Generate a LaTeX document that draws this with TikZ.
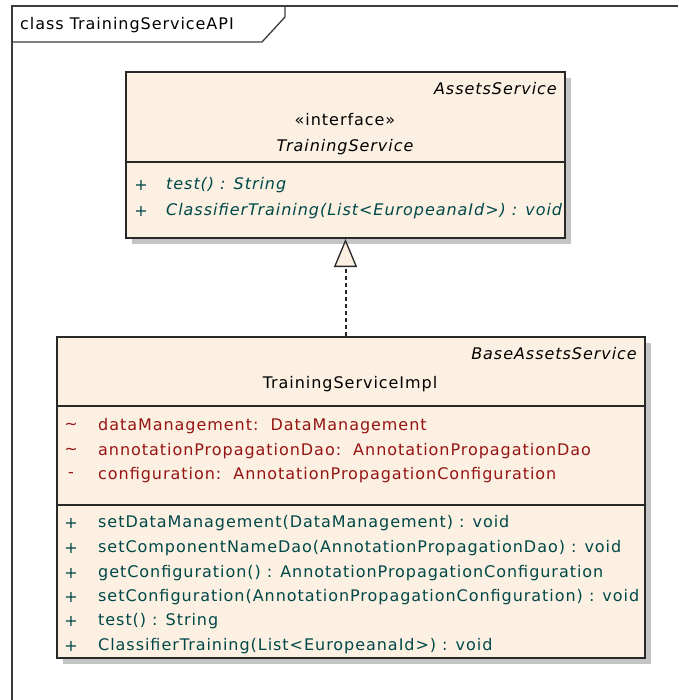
\documentclass[tikz,border=0pt]{standalone}
\usepackage{fontspec}
\newfontfamily\umlfont[LetterSpace=6]{DejaVu Sans}
\usetikzlibrary{arrows.meta,shadows,positioning}
\definecolor{boxfill}{RGB}{251,240,225}
\definecolor{boxline}{RGB}{40,40,40}
\definecolor{shadowgray}{RGB}{196,196,196}
\definecolor{attrred}{RGB}{150,20,20}
\definecolor{opteal}{RGB}{0,72,72}
\definecolor{framegray}{RGB}{60,60,60}
\tikzset{
  umlbox/.style={draw=boxline, line width=2pt, fill=boxfill,
    drop shadow={shadow xshift=6pt, shadow yshift=-6pt, fill=shadowgray, opacity=1}},
  umltext/.style={inner sep=0pt, font=\umlfont\fontsize{16}{19}\selectfont},
  umlitalic/.style={umltext, font=\umlfont\itshape\fontsize{16}{19}\selectfont},
  optext/.style={umltext, text=opteal},
  attrtext/.style={umltext, text=attrred},
  realize/.style={line width=2pt, boxline, dash pattern=on 4pt off 3pt,
    -{Triangle[width=23pt, length=28pt, fill=boxfill, line width=1.3pt]}}
}

\begin{document}
\begin{tikzpicture}[x=1pt, y=-1pt]
  \useasboundingbox (0,0) rectangle (678,700);

  % Frame
  \draw[framegray, line width=1.3pt] (12,700) -- (12,6) -- (678,6);
  \draw[framegray, line width=1.3pt] (12,42) -- (262,42) -- (285,17) -- (285,6);
  \node[umltext, anchor=west] (framelabel) at (20,25) {class TrainingServiceAPI};

  % Interface
  \node[umlbox, minimum width=439pt, minimum height=166pt] (iface) at (345.5,155) {};
  \draw[boxline, line width=1.6pt] (iface.west |- 0,162) -- (iface.east |- 0,162);
  \node[umlitalic, anchor=east] (ifaceparent) at (557,89) {AssetsService};
  \node[umltext] (ifacestereo) at (345,120) {«interface»};
  \node[umlitalic] (ifacename) at (345,147) {TrainingService};
  \foreach \y/\txt [count=\i] in {185/{test() : String},
      211/{ClassifierTraining(List<EuropeanaId>) : void}} {
    \node[optext] (ifacevis\i) at (141,\y) {+};
    \node[umlitalic, text=opteal, anchor=west] (ifaceop\i) at (166,\y) {\txt};
  }

  % Implementation
  \node[umlbox, minimum width=588pt, minimum height=321pt] (impl) at (351,497.5) {};
  \draw[boxline, line width=1.6pt] (impl.west |- 0,406) -- (impl.east |- 0,406);
  \draw[boxline, line width=1.6pt] (impl.west |- 0,505) -- (impl.east |- 0,505);
  \node[umlitalic, anchor=east] (implparent) at (637,354) {BaseAssetsService};
  \node[umltext] (implname) at (350,384) {TrainingServiceImpl};
  \foreach \y/\vis/\txt [count=\i] in {426/{\textasciitilde}/{dataManagement:~~DataManagement},
      451/{\textasciitilde}/{annotationPropagationDao:~~AnnotationPropagationDao},
      475/{-}/{configuration:~~AnnotationPropagationConfiguration}} {
    \node[attrtext] (implattrvis\i) at (71,\y) {\vis};
    \node[attrtext, anchor=west] (implattr\i) at (98,\y) {\txt};
  }
  \foreach \y/\txt [count=\i] in {523/{setDataManagement(DataManagement) : void},
      548/{setComponentNameDao(AnnotationPropagationDao) : void},
      573/{getConfiguration() : AnnotationPropagationConfiguration},
      597/{setConfiguration(AnnotationPropagationConfiguration) : void},
      621/{test() : String},
      646/{ClassifierTraining(List<EuropeanaId>) : void}} {
    \node[optext] (implvis\i) at (71,\y) {+};
    \node[optext, anchor=west] (implop\i) at (98,\y) {\txt};
  }

  % Realization
  \draw[realize] (impl.north -| iface.south) -- (iface.south);
\end{tikzpicture}
\end{document}
